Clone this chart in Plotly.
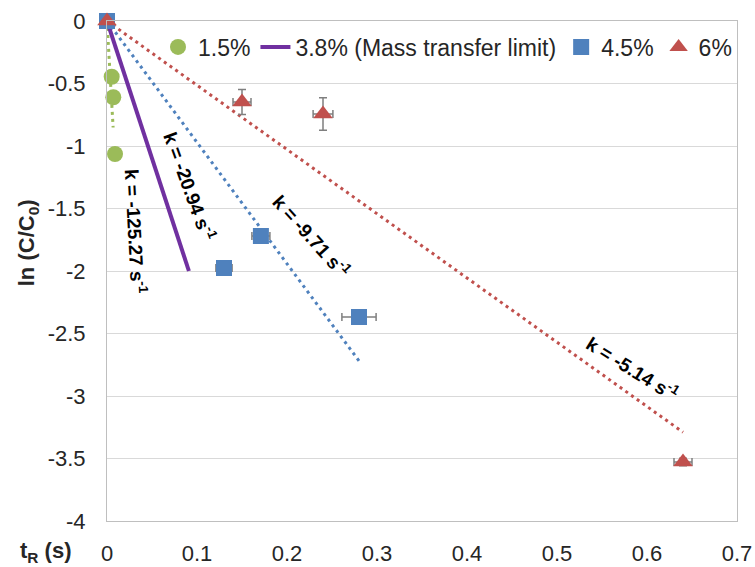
import plotly.graph_objects as go

# ---- data ----
g_t = [0, 0.0052, 0.0070, 0.0089]
g_y = [0, -0.446, -0.61, -1.064]
g_k = -125.27
g_tmax = 0.0068

p_t = [0, 0.091]
p_y = [0, -2.0]
p_k = -20.94

b_t = [0, 0.130, 0.171, 0.280]
b_y = [0, -1.976, -1.72, -2.368]
b_tx_err = [0, 0.009, 0.010, 0.019]
b_k = -9.71
b_tmax = 0.28

r_t = [0, 0.150, 0.240, 0.640]
r_y = [0, -0.648, -0.744, -3.528]
r_tx_err = [0, 0.010, 0.011, 0.010]
r_y_err = [0, 0.10, 0.13, 0.03]
r_k = -5.14
r_tmax = 0.64

x_ticks = [0, 0.1, 0.2, 0.3, 0.4, 0.5, 0.6, 0.7]
y_ticks = [0, -0.5, -1, -1.5, -2, -2.5, -3, -3.5, -4]

GREEN = "#9BBB59"
PURPLE = "#7030A0"
BLUE = "#4F81BD"
RED = "#C0504D"
ERR = "#7F7F7F"
FONT = "Arial, Liberation Sans, sans-serif"

fig = go.Figure()

# trendlines (dotted)
for k, tmax, col in [(g_k, g_tmax, GREEN), (b_k, b_tmax, BLUE), (r_k, r_tmax, RED)]:
    fig.add_trace(go.Scatter(x=[0, tmax], y=[0, k * tmax], mode="lines",
                             line=dict(color=col, width=3, dash="3px,4px"),
                             showlegend=False, hoverinfo="skip"))

fig.add_trace(go.Scatter(x=g_t, y=g_y, mode="markers", name="1.5%", cliponaxis=False,
                         marker=dict(symbol="circle", size=16, color=GREEN)))
fig.add_trace(go.Scatter(x=p_t, y=p_y, mode="lines", name="3.8% (Mass transfer limit)",
                         line=dict(color=PURPLE, width=4)))
fig.add_trace(go.Scatter(x=b_t, y=b_y, mode="markers", name="4.5%", cliponaxis=False,
                         marker=dict(symbol="square", size=16, color=BLUE),
                         error_x=dict(type="data", array=b_tx_err, color=ERR, thickness=1.5, width=4)))
fig.add_trace(go.Scatter(x=r_t, y=r_y, mode="markers", name="6%", cliponaxis=False,
                         marker=dict(symbol="triangle-up", size=17, color=RED),
                         error_x=dict(type="data", array=r_tx_err, color=ERR, thickness=1.5, width=4),
                         error_y=dict(type="data", array=r_y_err, color=ERR, thickness=1.5, width=4)))

labels = [
    ("k = -125.27 s<sup>-1</sup>", 0.0322, -1.688, 87),
    ("k = -20.94 s<sup>-1</sup>", 0.0922, -1.32, 70),
    ("k = -9.71 s<sup>-1</sup>", 0.2278, -1.72, 48),
    ("k = -5.14 s<sup>-1</sup>", 0.584, -2.776, 32),
]
for txt, x, y, ang in labels:
    fig.add_annotation(x=x, y=y, xref="x", yref="y", text="<b>" + txt + "</b>",
                       showarrow=False, textangle=ang,
                       font=dict(family=FONT, size=19, color="#000000"))

fig.add_annotation(x=-0.125, y=0.556, xref="paper", yref="paper",
                   xanchor="center", yanchor="middle",
                   text="<b>ln (C/C<sub>0</sub>)</b>", textangle=-90, showarrow=False,
                   font=dict(family=FONT, size=22, color="#262626"))
fig.add_annotation(x=-0.097, y=-0.062, xref="paper", yref="paper",
                   xanchor="center", yanchor="middle",
                   text="<b>t<sub>R</sub> (s)</b>", showarrow=False,
                   font=dict(family=FONT, size=22, color="#262626"))

fig.update_layout(
    width=755, height=567,
    margin=dict(l=107, r=18, t=21, b=46, autoexpand=False),
    paper_bgcolor="white", plot_bgcolor="white",
    font=dict(family=FONT, size=22, color="#262626"),
    showlegend=True,
    legend=dict(orientation="h", x=1.0, xanchor="right", y=0.948, yanchor="middle",
                bgcolor="rgba(0,0,0,0)", font=dict(family=FONT, size=23, color="#262626"),
                itemwidth=30, tracegroupgap=0),
    xaxis=dict(range=[0, 0.7], tickvals=x_ticks, ticktext=[f"{v:g}" for v in x_ticks],
               showgrid=False, zeroline=False, showline=True, linecolor="#BFBFBF",
               linewidth=1, mirror=True, ticks="", ticklabelstandoff=13, automargin=False,
               tickfont=dict(family=FONT, size=22, color="#262626")),
    yaxis=dict(range=[-4, 0], tickvals=y_ticks, ticktext=[f"{v:g}" for v in y_ticks],
               showgrid=True, gridcolor="#D9D9D9", gridwidth=1, zeroline=False,
               showline=True, linecolor="#BFBFBF", linewidth=1, mirror=True,
               ticks="", ticklabelstandoff=16, automargin=False,
               tickfont=dict(family=FONT, size=22, color="#262626")),
)

fig.write_html("out.html")
